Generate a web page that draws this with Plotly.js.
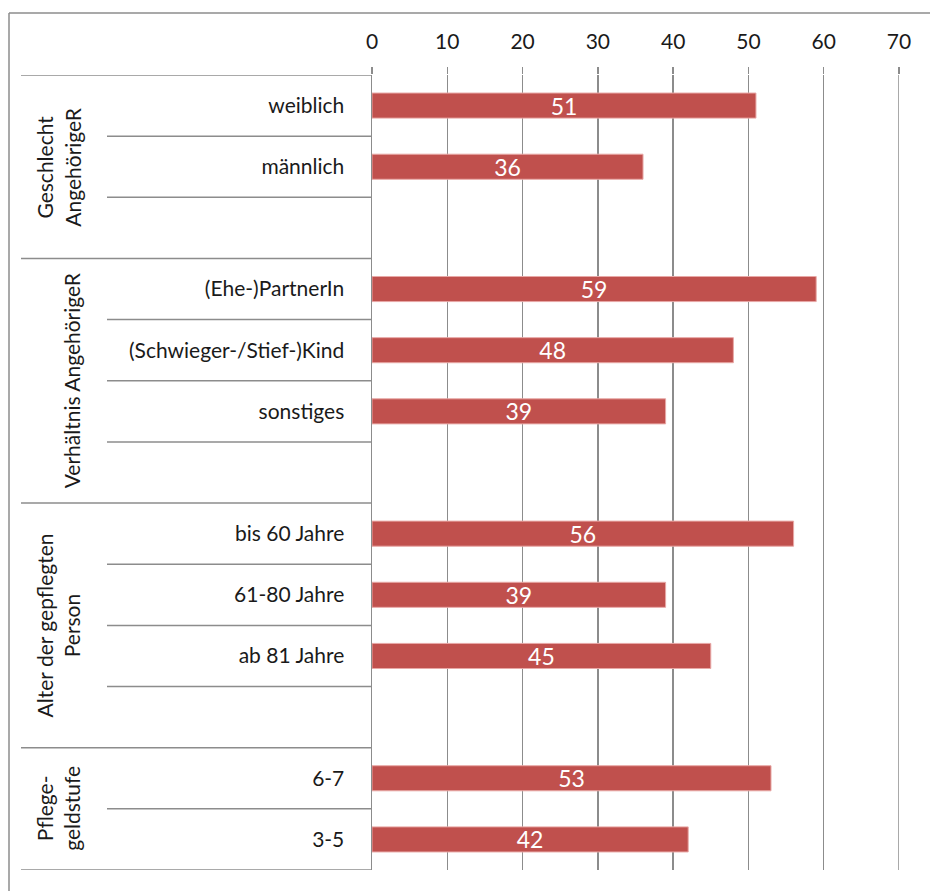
<!DOCTYPE html>
<html>
<head>
<meta charset="utf-8">
<script src="https://cdn.plot.ly/plotly-3.0.1.min.js"></script>
<style>
html,body{margin:0;padding:0;background:#fff;}
#chart{width:930px;height:891px;}
</style>
</head>
<body>
<div id="chart"></div>
<script>
// ---- data ----
var groupNames = ["Geschlecht<br>AngehörigeR", "Verhältnis AngehörigeR", "Alter der gepflegten<br>Person", "Pflege-<br>geldstufe"];
var group1Items = ["weiblich", "männlich"];
var group1Values = [51, 36];
var group2Items = ["(Ehe-)PartnerIn", "(Schwieger-/Stief-)Kind", "sonstiges"];
var group2Values = [59, 48, 39];
var group3Items = ["bis 60 Jahre", "61-80 Jahre", "ab 81 Jahre"];
var group3Values = [56, 39, 45];
var group4Items = ["6-7", "3-5"];
var group4Values = [53, 42];
var xTicks = [0, 10, 20, 30, 40, 50, 60, 70];

// ---- build category list (blank spacer row after each group except last) ----
var groupItems = [group1Items, group2Items, group3Items, group4Items];
var groupValues = [group1Values, group2Values, group3Values, group4Values];
var cats = [], vals = [], groupStart = [], groupLen = [];
var blank = " ";
groupItems.forEach(function (items, g) {
  groupStart.push(cats.length);
  items.forEach(function (it, i) { cats.push(it); vals.push(groupValues[g][i]); });
  if (g < groupItems.length - 1) { cats.push(blank); vals.push(null); blank += " "; }
  groupLen.push(cats.length - groupStart[g]);
});

// ---- geometry helpers ----
var W = 930, H = 891;
var M = {l: 372, r: 31, t: 75, b: 21};
var pw = W - M.l - M.r, ph = H - M.t - M.b;
function px(x) { return (x - M.l) / pw; }
function py(y) { return (H - M.b - y) / ph; }

var grey = "#8c8c8c";
var fontFam = "Lato, 'Open Sans', sans-serif";
var txtCol = "#1a1a1a";
var xMax = xTicks[xTicks.length - 1];

var shapes = [];
// category boundaries
var groupBounds = {};
groupStart.forEach(function (s, g) { groupBounds[s] = true; groupBounds[s + groupLen[g]] = true; });
for (var k = 0; k <= cats.length; k++) {
  shapes.push({
    type: "line", xref: "paper", yref: "y",
    x0: groupBounds[k] ? px(21) : px(107), x1: 0,
    y0: k - 0.5, y1: k - 0.5,
    line: {color: grey, width: 1.5}
  });
}
// last gridline at the right edge (plotly omits it at the axis end)
shapes.push({type: "line", xref: "x", yref: "paper", x0: xMax, x1: xMax, y0: 0, y1: 1, line: {color: grey, width: 1.5}, layer: "below"});
// outer frame (left + top)
shapes.push({type: "line", xref: "paper", yref: "paper", x0: px(9), x1: px(9), y0: py(891), y1: py(13), line: {color: grey, width: 1.5}});
shapes.push({type: "line", xref: "paper", yref: "paper", x0: px(9), x1: px(930), y0: py(13), y1: py(13), line: {color: grey, width: 1.5}});

var annotations = groupNames.map(function (name, g) {
  return {
    text: name, xref: "paper", yref: "y",
    x: px(86), y: groupStart[g] + (groupLen[g] - 1) / 2,
    xanchor: "right", yanchor: "middle",
    textangle: -90, showarrow: false,
    font: {family: fontFam, size: 21, color: txtCol}
  };
});

var trace = {
  type: "bar", orientation: "h",
  y: cats, x: vals,
  width: 0.41,
  marker: {color: "#C0504D", line: {color: "#e8a8a6", width: 1}},
  text: vals.map(function (v) { return v === null ? "" : String(v); }),
  textposition: "inside", insidetextanchor: "middle",
  textangle: 0,
  constraintext: "none",
  textfont: {family: fontFam, size: 23, color: "#ffffff"},
  hoverinfo: "x+y"
};

var layout = {
  width: W, height: H,
  margin: M,
  paper_bgcolor: "#fff", plot_bgcolor: "#fff",
  showlegend: false,
  bargap: 0.59,
  xaxis: {
    side: "top", range: [0, xMax], tickvals: xTicks,
    showgrid: true, gridcolor: grey, gridwidth: 1.5,
    zeroline: false, showline: false,
    ticks: "outside", ticklen: 7, tickcolor: grey, tickwidth: 1.5,
    ticklabelstandoff: 10,
    tickfont: {family: fontFam, size: 21, color: txtCol}
  },
  yaxis: {
    type: "category", categoryorder: "array", categoryarray: cats,
    range: [cats.length - 0.5, -0.5],
    showgrid: false, zeroline: false,
    showline: true, linecolor: grey, linewidth: 1.5,
    ticks: "", ticklabelstandoff: 22,
    tickfont: {family: fontFam, size: 21, color: txtCol}
  },
  shapes: shapes,
  annotations: annotations
};

Plotly.newPlot("chart", [trace], layout, {displayModeBar: false, staticPlot: true});
</script>
</body>
</html>
